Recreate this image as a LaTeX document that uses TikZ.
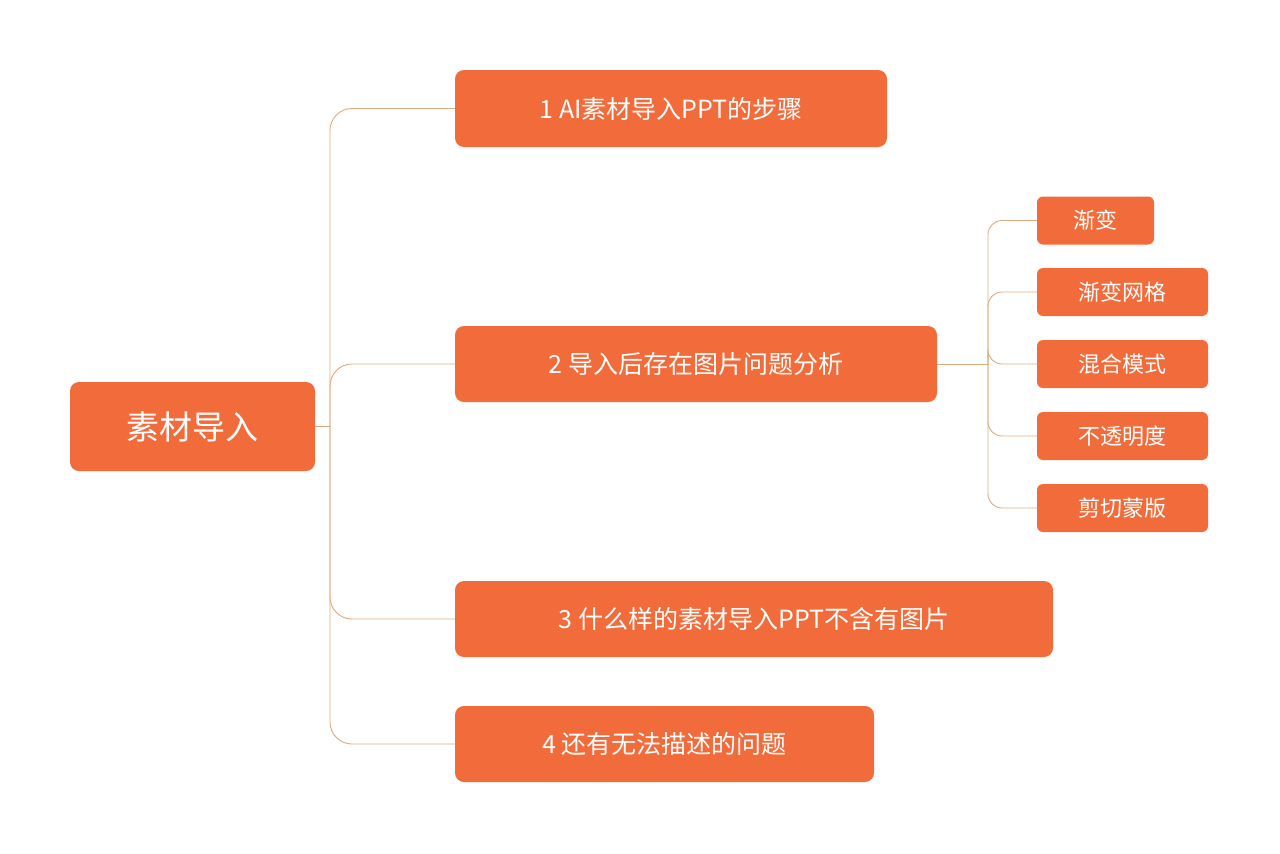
\documentclass[tikz,border=0pt]{standalone}
\usepackage{fontspec}
\newfontfamily\cjk{Noto Sans CJK SC}
\definecolor{boxc}{HTML}{F26B3A}
\definecolor{linec}{HTML}{DDAA80}
\tikzset{
 bx/.style={fill=boxc,rounded corners=9pt,text=white,font=\cjk,inner sep=0pt},
 ln/.style={draw=linec,line width=0.9pt,rounded corners=22pt},
 sln/.style={draw=linec,line width=0.9pt,rounded corners=14pt}
}
\begin{document}
\begin{tikzpicture}[x=1pt,y=1pt]
\useasboundingbox (0,0) rectangle (1280,-854);
\fill[white] (0,0) rectangle (1280,-854);
\node[bx,minimum width=245pt,minimum height=89pt,font=\cjk\fontsize{33}{36}\selectfont] (r) at (192.5,-426.5) {素材导入};
\node[bx,minimum width=432pt,minimum height=77pt,font=\cjk\fontsize{25}{28}\selectfont] (a) at (671,-108.5) {1 AI素材导入PPT的步骤};
\node[bx,minimum width=482pt,minimum height=76pt,font=\cjk\fontsize{25}{28}\selectfont] (b) at (696,-364) {2 导入后存在图片问题分析};
\node[bx,minimum width=598pt,minimum height=76pt,font=\cjk\fontsize{25}{28}\selectfont] (c) at (754,-619) {3 什么样的素材导入PPT不含有图片};
\node[bx,minimum width=419pt,minimum height=76pt,font=\cjk\fontsize{25}{28}\selectfont] (d) at (664.5,-744) {4 还有无法描述的问题};
\tikzset{sb/.style={bx,rounded corners=6pt,minimum height=48pt,font=\cjk\fontsize{22}{25}\selectfont}}
\node[sb,minimum width=117pt] (s1) at (1095.5,-220.5) {渐变};
\node[sb,minimum width=171pt] (s2) at (1122.5,-292) {渐变网格};
\node[sb,minimum width=171pt] (s3) at (1122.5,-364) {混合模式};
\node[sb,minimum width=171pt] (s4) at (1122.5,-436) {不透明度};
\node[sb,minimum width=171pt] (s5) at (1122.5,-508) {剪切蒙版};
\coordinate (j) at (330,-426.5);
\coordinate (k) at (988,-364);
\draw[ln] (r.east) -- (j);
\foreach \t in {a,b,c,d} \draw[ln] (j) |- (\t.west);
\draw[ln] (b.east) -- (k);
\foreach \t in {s1,s2,s3,s4,s5} \draw[sln] (k) |- (\t.west);
\end{tikzpicture}
\end{document}
